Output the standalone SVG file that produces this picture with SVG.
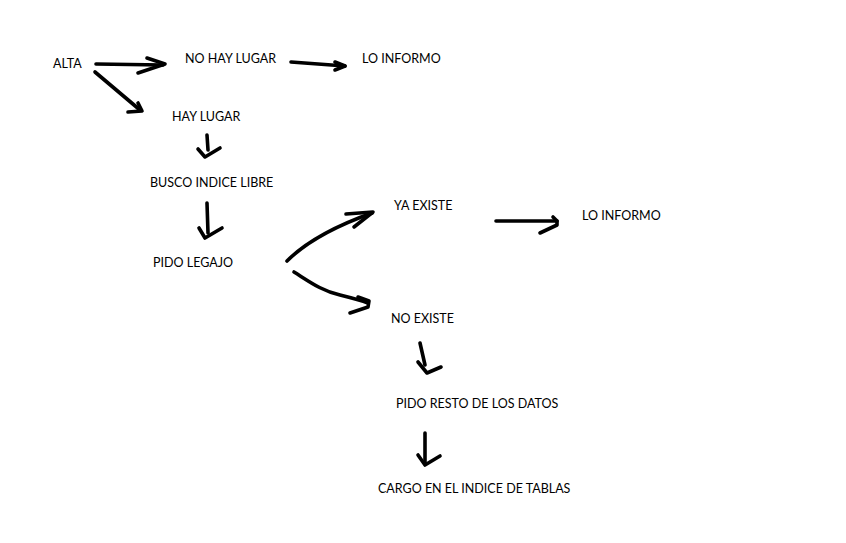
<svg xmlns="http://www.w3.org/2000/svg" width="846" height="543" viewBox="0 0 846 543">
<style>
text{font-family:Lato,"Liberation Sans",sans-serif;font-size:12.5px;fill:#000}
.c path{fill:none;stroke:#000;stroke-width:3.6;stroke-linecap:round;stroke-linejoin:round}
</style>
<rect width="846" height="543" fill="#fff"/>
<g id="n-alta"><text x="53" y="67.5">ALTA</text></g>
<g id="n-nohay"><text x="185" y="63.3">NO HAY LUGAR</text></g>
<g id="n-informo1"><text x="362" y="63.3">LO INFORMO</text></g>
<g id="n-hay"><text x="172" y="121">HAY LUGAR</text></g>
<g id="n-busco"><text x="150" y="187.3">BUSCO INDICE LIBRE</text></g>
<g id="n-pido"><text x="153" y="267">PIDO LEGAJO</text></g>
<g id="n-yaexiste"><text x="394" y="210">YA EXISTE</text></g>
<g id="n-informo2"><text x="582" y="220">LO INFORMO</text></g>
<g id="n-noexiste"><text x="391" y="323">NO EXISTE</text></g>
<g id="n-resto"><text x="396" y="408">PIDO RESTO DE LOS DATOS</text></g>
<g id="n-cargo"><text x="378" y="492.7">CARGO EN EL INDICE DE TABLAS</text></g>
<g id="connectors" class="c">
<path d="M96,64 L163,65"/><path d="M147,58 L165,64 L138,73"/>
<path d="M95,72 L140,110"/><path d="M138,103 L142,111 L128,112"/>
<path d="M291,62 L345,66"/><path d="M335,62 L345,66 L335,70"/>
<path d="M207,135 L208,150"/><path d="M198,149 L205,157 L220,148"/>
<path d="M207,203 L208,233"/><path d="M199,228 L205,238 L222,228"/>
<path d="M287,261 C305,243 330,228 372,213"/><path d="M346,214 L373,212 L354,227"/>
<path d="M294,272 C310,282 322,291 340,295 C352,298 360,300 368,303"/><path d="M358,297 L369,301 L368,307 L350,313"/>
<path d="M496,221 L557,221"/><path d="M553,217 L557,221 L557,225 L540,233"/>
<path d="M420,343 L425,365"/><path d="M418,362 L427,373 L441,367"/>
<path d="M425,433 L425,463"/><path d="M418,455 L425,465 L440,456"/>
</g>
</svg>
